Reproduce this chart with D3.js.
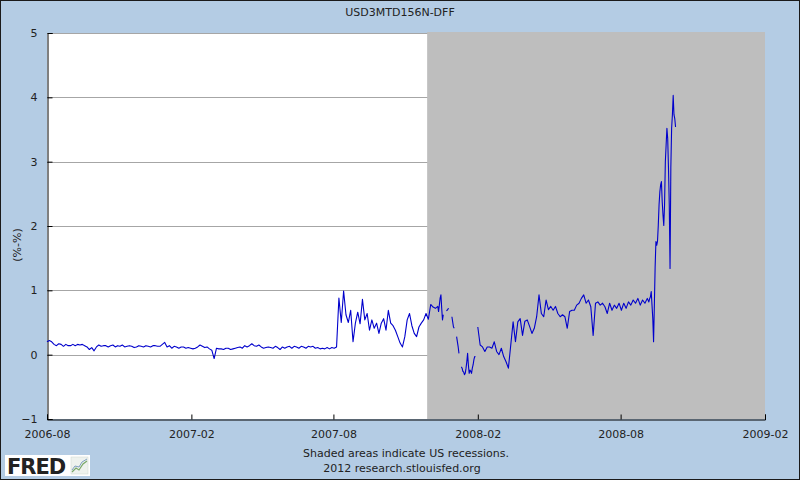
<!DOCTYPE html>
<html>
<head>
<meta charset="utf-8">
<script src="https://cdn.jsdelivr.net/npm/d3@7"></script>
<style>
  html, body { margin: 0; padding: 0; background: #b4cce4; }
  svg { display: block; }
  text { font-family: "DejaVu Sans", Verdana, sans-serif; }
</style>
</head>
<body>
<svg id="chart" width="800" height="480"></svg>
<script>
// ---------------- DATA ----------------
const chartTitle = "USD3MTD156N-DFF";
const yLabel = "(%-%)";
const yTicks = [-1, 0, 1, 2, 3, 4, 5];
const xTickLabels = ["2006-08", "2007-02", "2007-08", "2008-02", "2008-08", "2009-02"];
const xDomain = ["2006-08-01", "2009-02-01"];
const recessions = [["2007-12-01", "2009-06-01"]];
const footerLines = ["Shaded areas indicate US recessions.", "2012 research.stlouisfed.org"];

// segment 1: every 3 days starting 2006-08-01
const seg1Start = "2006-08-01", seg1Step = 3;
const seg1Values = [
  0.20,0.22,0.20,0.16,0.14,0.17,0.16,0.13,0.16,0.14,
  0.14,0.16,0.14,0.16,0.15,0.16,0.14,0.12,0.08,0.11,
  0.06,0.12,0.15,0.13,0.14,0.14,0.12,0.14,0.15,0.12,
  0.14,0.13,0.15,0.12,0.13,0.14,0.13,0.11,0.12,0.14,
  0.13,0.12,0.14,0.13,0.12,0.14,0.14,0.13,0.13,0.16,
  0.19,0.12,0.14,0.10,0.13,0.12,0.10,0.12,0.12,0.10,
  0.11,0.10,0.09,
  0.10,0.12,0.15,0.13,0.11,0.12,0.09,0.07,-0.06,0.10,
  0.09,0.09,0.08,0.10,0.10,0.08,0.09,0.10,0.11,0.12,
  0.10,0.14,0.12,0.14,0.17,0.14,0.13,0.15,0.12,0.10,
  0.11,0.12,0.11,0.10,0.13,0.11,0.08,0.12,0.10,0.12,
  0.13,0.10,0.13,0.12,0.10,0.13,0.12,0.10,0.13,0.12,
  0.13,0.10,0.11,0.09,0.10,0.09,0.11,0.09,0.11,0.10,
  0.12,
  0.88,0.50,0.99,0.62,0.50,0.69,0.20,0.49,0.66,0.48,
  0.86,0.54,0.64,0.38,0.54,0.41,0.49,0.33,0.49,0.56,
  0.38,0.69,0.49,0.45,0.38,0.28,0.18,0.12,0.28,0.54,
  0.64,0.45,0.33,0.28,0.43,0.49,0.54,0.64,
  0.55,0.78,0.74,0.72,0.75
];

// segment 2: daily starting 2007-12-13 (null = missing observation)
const seg2Start = "2007-12-13", seg2Step = 1;
const seg2Values = [
  0.67,0.77,0.88,0.93,0.72,0.54,0.62,null,null,null,
  0.68,0.69,0.71,0.72,null,null,null,0.59,0.51,0.43,
  0.41,null,null,0.28,0.20,0.12,0.02,null,null,-0.19,
  -0.21,-0.26,-0.27,-0.31,-0.29,-0.21,-0.11,0.02,-0.16,-0.29,
  -0.24,-0.26,-0.29,-0.21,-0.16,-0.08,-0.03,-0.03,null,null
];

// segment 3: every 3 days starting 2008-02-01
const seg3Start = "2008-02-01", seg3Step = 3;
const seg3Values = [
  0.43,0.15,0.12,0.05,0.12,0.12,0.10,0.20,0.05,0.00,
  0.10,-0.03,-0.11,-0.21,0.15,0.51,0.20,0.51,0.56,0.30,
  0.52,0.54,0.44,0.33,0.41,0.59,0.93,0.64,0.59,0.85,
  0.70,0.75,0.69,0.75,0.64,0.59,0.62,0.59,0.41,0.67,
  0.69,0.69,0.77,0.80,0.875,0.93,0.80,0.85,0.745,0.30,
  0.80,0.82,0.77,0.80,0.745,0.64,0.80,0.69,0.77,0.72,
  0.80,0.69,0.80,0.72,0.82,0.77,0.85,0.80,0.875,0.77,
  0.85,0.80,0.875
];

// segment 4: daily starting 2008-09-06
const seg4Start = "2008-09-06", seg4Step = 1;
const seg4Values = [
  0.82,0.87,0.90,0.98,0.77,0.56,0.20,0.77,1.37,1.76,
  1.70,1.76,2.01,2.33,2.53,2.64,2.69,2.38,2.17,2.01,
  2.33,3.00,3.26,3.52,3.36,2.90,2.33,1.34,2.90,3.52,
  3.73,4.03,3.73,3.67,3.54
];

// ---------------- BUILD ----------------
const parse = d3.timeParse("%Y-%m-%d");
function expand(start, step, values) {
  const s = parse(start);
  return values.map((v, i) => ({ date: d3.timeDay.offset(s, i * step), value: v }));
}
const series = [].concat(
  expand(seg1Start, seg1Step, seg1Values),
  expand(seg2Start, seg2Step, seg2Values),
  expand(seg3Start, seg3Step, seg3Values),
  expand(seg4Start, seg4Step, seg4Values)
);

const W = 800, H = 480;
const plot = { left: 47, right: 765, top: 33, bottom: 419 };

const svg = d3.select("#chart");

const x = d3.scaleTime()
  .domain(xDomain.map(parse))
  .range([plot.left, plot.right]);
const y = d3.scaleLinear()
  .domain([d3.min(yTicks), d3.max(yTicks)])
  .range([plot.bottom, plot.top]);

// page background + frame
svg.append("rect").attr("x", 0).attr("y", 0).attr("width", W).attr("height", H)
  .attr("fill", "#b4cce4");
svg.append("rect").attr("x", 0.5).attr("y", 0.5).attr("width", W - 1).attr("height", H - 1)
  .attr("fill", "none").attr("stroke", "#1a1a1a").attr("stroke-width", 1);

// plot background
svg.append("rect")
  .attr("x", plot.left).attr("y", plot.top)
  .attr("width", plot.right - plot.left).attr("height", plot.bottom - plot.top)
  .attr("fill", "#ffffff");

// gridlines
svg.append("g")
  .selectAll("line")
  .data(yTicks.filter(t => t > d3.min(yTicks)))
  .join("line")
  .attr("x1", plot.left).attr("x2", plot.right)
  .attr("y1", d => Math.round(y(d)) + 0.5).attr("y2", d => Math.round(y(d)) + 0.5)
  .attr("stroke", "#a6a6a6").attr("stroke-width", 1);

// recession shading
svg.append("defs").append("clipPath").attr("id", "plotclip")
  .append("rect")
  .attr("x", plot.left).attr("y", plot.top - 1)
  .attr("width", plot.right - plot.left).attr("height", plot.bottom - plot.top + 1);

svg.append("g").attr("clip-path", "url(#plotclip)")
  .selectAll("rect")
  .data(recessions)
  .join("rect")
  .attr("x", d => x(parse(d[0])) - 2)
  .attr("y", plot.top - 1)
  .attr("width", d => x(parse(d[1])) - x(parse(d[0])) + 2)
  .attr("height", plot.bottom - plot.top + 1)
  .attr("fill", "#bebebe");

// axes
const yAxis = d3.axisLeft(y).tickValues(yTicks).tickSize(-5).tickPadding(10)
  .tickFormat(d3.format("d"));
const gy = svg.append("g").attr("transform", `translate(${plot.left + 0.5},0)`).call(yAxis);
gy.select(".domain").attr("stroke", "#000");
gy.selectAll(".tick line").attr("stroke", "#000");
gy.selectAll(".tick text").attr("fill", "#222").attr("font-size", 11)
  .attr("font-family", "DejaVu Sans, Verdana, sans-serif");

const xTickDates = xTickLabels.map(s => parse(s + "-01"));
const xAxis = d3.axisBottom(x).tickValues(xTickDates).tickSize(-5).tickPadding(11)
  .tickFormat(d3.timeFormat("%Y-%m"));
const gx = svg.append("g").attr("transform", `translate(0,${plot.bottom + 0.5})`).call(xAxis);
gx.select(".domain").attr("stroke", "#000");
gx.selectAll(".tick line").attr("stroke", "#000");
gx.selectAll(".tick text").attr("fill", "#222").attr("font-size", 11)
  .attr("font-family", "DejaVu Sans, Verdana, sans-serif");

// data line
const line = d3.line()
  .defined(d => d.value !== null)
  .x(d => x(d.date))
  .y(d => y(d.value));
svg.append("path")
  .datum(series)
  .attr("fill", "none")
  .attr("stroke", "#0000cc")
  .attr("stroke-width", 1.1)
  .attr("stroke-linejoin", "round")
  .attr("d", line);

// title
svg.append("text")
  .attr("x", 400).attr("y", 16)
  .attr("text-anchor", "middle")
  .attr("font-size", 11).attr("fill", "#222")
  .text(chartTitle);

// y label
svg.append("text")
  .attr("transform", "translate(21,245) rotate(-90)")
  .attr("text-anchor", "middle")
  .attr("font-size", 11).attr("fill", "#222")
  .text(yLabel);

// footer
svg.append("text").attr("x", 406).attr("y", 457).attr("text-anchor", "middle")
  .attr("font-size", 11).attr("fill", "#222").text(footerLines[0]);
svg.append("text").attr("x", 402).attr("y", 472).attr("text-anchor", "middle")
  .attr("font-size", 11).attr("fill", "#222").text(footerLines[1]);

// FRED logo
const logo = svg.append("g");
logo.append("rect").attr("x", 5).attr("y", 455).attr("width", 85).attr("height", 21)
  .attr("fill", "#ffffff");
logo.append("text").attr("x", 7).attr("y", 474)
  .attr("font-family", "Liberation Sans, Arial, sans-serif")
  .attr("font-weight", "bold").attr("font-size", 21).attr("letter-spacing", -1)
  .attr("fill", "#222").text("FRED");
logo.append("rect").attr("x", 71).attr("y", 457).attr("width", 17).attr("height", 17)
  .attr("fill", "#eef2ee").attr("stroke", "#cfd8cf").attr("stroke-width", 0.5);
logo.append("path").attr("d", "M72,472 L76,468 L79,470 L83,464 L87,461")
  .attr("fill", "none").attr("stroke", "#7aa86a").attr("stroke-width", 1.2);
logo.append("path").attr("d", "M72,470 L75,466 L79,467 L82,462 L87,459")
  .attr("fill", "none").attr("stroke", "#7f9fc0").attr("stroke-width", 1);
</script>
</body>
</html>
